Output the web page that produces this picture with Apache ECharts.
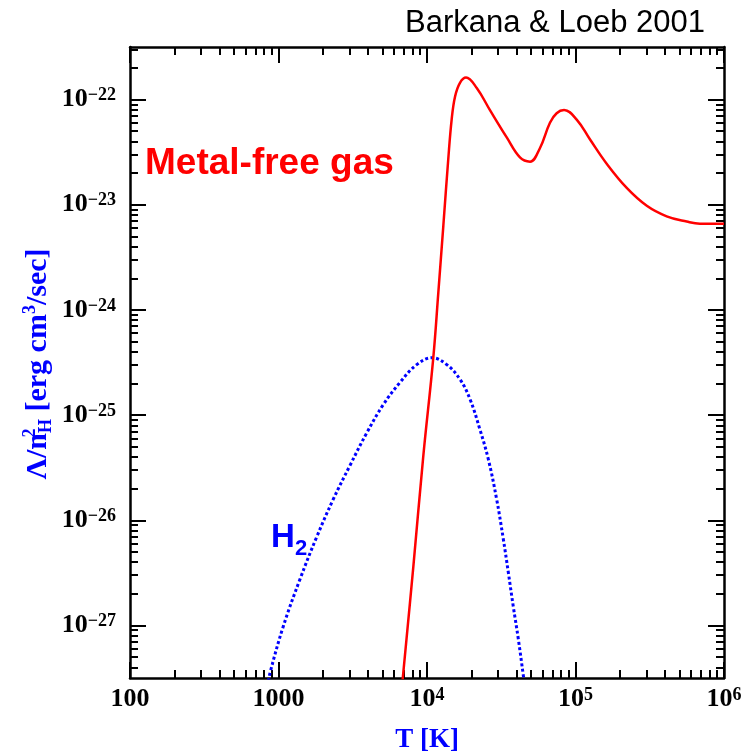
<!DOCTYPE html>
<html>
<head>
<meta charset="utf-8">
<script src="https://cdn.jsdelivr.net/npm/echarts@6/dist/echarts.min.js"></script>
<style>
  html, body { margin: 0; padding: 0; background: #ffffff; }
  #chart { width: 756px; height: 752px; }
</style>
</head>
<body>
<div id="chart"></div>
<script>
// Cooling function of primordial gas; both axes are plotted as log10 values.
const xMajor = [2, 3, 4, 5, 6];                  // log10 T [K]
const xMajorText = ['100', '1000', '10^4', '10^5', '10^6'];
const yMajor = [-27, -26, -25, -24, -23, -22];   // log10 of cooling rate
const xRange = [2, 6];
const yRange = [-27.5, -21.5];

// Metal-free (atomic H + He) cooling curve
const metalFreeLogT = [3.835, 3.908, 3.975, 4.042, 4.076, 4.110, 4.143, 4.166, 4.189, 4.222,
  4.263, 4.335, 4.424, 4.537, 4.626, 4.694, 4.761, 4.828, 4.873, 4.923,
  5.008, 5.098, 5.210, 5.345, 5.480, 5.614, 5.749, 5.838, 6.000];
const metalFreeLogL = [-27.53, -26.44, -25.39, -24.46, -23.84, -23.20, -22.57, -22.19, -21.97, -21.84,
  -21.79, -21.89, -22.10, -22.36, -22.55, -22.59, -22.46, -22.22, -22.13, -22.10,
  -22.19, -22.38, -22.61, -22.84, -23.01, -23.11, -23.16, -23.18, -23.18];

// Molecular hydrogen cooling curve
const h2LogT = [2.933, 2.943, 3.032, 3.145, 3.257, 3.369, 3.481, 3.594, 3.706, 3.818,
  3.931, 4.034, 4.133, 4.222, 4.290, 4.357, 4.413, 4.469, 4.514, 4.548,
  4.581, 4.615, 4.649, 4.654];
const h2LogL = [-27.53, -27.45, -27.01, -26.56, -26.16, -25.80, -25.48, -25.17, -24.90, -24.69,
  -24.52, -24.455, -24.52, -24.66, -24.85, -25.14, -25.42, -25.80, -26.18, -26.50,
  -26.82, -27.13, -27.48, -27.53];

// Intermediate log ticks (2..9 times each decade) inside a range
function minorLogTicks(lo, hi) {
  const out = [];
  for (let d = Math.floor(lo) - 1; d < hi; d++) {
    for (let k = 2; k <= 9; k++) {
      const v = d + Math.log10(k);
      if (v > lo && v < hi) out.push(v);
    }
  }
  return out;
}

const tickFont = 'Liberation Serif';
const labelRich = {
  b: { fontFamily: tickFont, fontWeight: 'bold', fontSize: 26, lineHeight: 26, color: '#000' },
  s: { fontFamily: tickFont, fontWeight: 'bold', fontSize: 18, lineHeight: 17, verticalAlign: 'top', color: '#000' }
};

function xLabel(v) {
  const i = xMajor.findIndex(e => Math.abs(e - v) < 1e-6);
  const t = i >= 0 ? xMajorText[i] : '';
  const parts = t.split('^');
  return parts.length > 1 ? '{b|' + parts[0] + '}{s|' + parts[1] + '}' : '{b|' + t + '}';
}
function yLabel(v) {
  return '{b|10}{s|\u2212' + Math.abs(Math.round(v)) + '}';
}

const lineCol = { color: '#000', width: 2.5 };
const tickCol = { color: '#000', width: 2 };

function makeAxis(range, position, ticks, len, opts) {
  return Object.assign({
    type: 'value', position: position, min: range[0], max: range[1],
    axisLine: { show: false, lineStyle: lineCol },
    splitLine: { show: false },
    axisTick: { show: true, inside: true, length: len, customValues: ticks, lineStyle: tickCol },
    axisLabel: { show: false }
  }, opts || {});
}

const xMinor = minorLogTicks(xRange[0], xRange[1]);
const yMinor = minorLogTicks(yRange[0], yRange[1]);

const xAxes = [
  makeAxis(xRange, 'bottom', xMajor, 16, {
    axisLine: { show: true, onZero: false, lineStyle: lineCol },
    axisLabel: { show: true, customValues: xMajor, formatter: xLabel, rich: labelRich, margin: 8 }
  }),
  makeAxis(xRange, 'bottom', xMinor, 8),
  makeAxis(xRange, 'top', xMajor, 16, { axisLine: { show: true, onZero: false, lineStyle: lineCol } }),
  makeAxis(xRange, 'top', xMinor, 8)
];
const yAxes = [
  makeAxis(yRange, 'left', yMajor, 16, {
    axisLine: { show: true, onZero: false, lineStyle: lineCol },
    axisLabel: { show: true, customValues: yMajor, formatter: yLabel, rich: labelRich, margin: 14 }
  }),
  makeAxis(yRange, 'left', yMinor, 8),
  makeAxis(yRange, 'right', yMajor, 16, { axisLine: { show: true, onZero: false, lineStyle: lineCol } }),
  makeAxis(yRange, 'right', yMinor, 8)
];

const chart = echarts.init(document.getElementById('chart'), null, { renderer: 'canvas' });
chart.setOption({
  animation: false,
  backgroundColor: '#ffffff',
  grid: { left: 130, right: 32, top: 47, bottom: 74, containLabel: false },
  xAxis: xAxes,
  yAxis: yAxes,
  series: [
    {
      name: 'H2',
      type: 'line',
      xAxisIndex: 0, yAxisIndex: 0,
      data: h2LogT.map((t, i) => [t, h2LogL[i]]),
      showSymbol: false,
      smooth: 0.4,
      clip: true,
      z: 2,
      lineStyle: { color: '#0000ff', width: 3, type: [3, 2.5], cap: 'butt' }
    },
    {
      name: 'Metal-free gas',
      type: 'line',
      xAxisIndex: 0, yAxisIndex: 0,
      data: metalFreeLogT.map((t, i) => [t, metalFreeLogL[i]]),
      showSymbol: false,
      smooth: 0.4,
      clip: true,
      z: 3,
      lineStyle: { color: '#ff0000', width: 2.5 }
    }
  ],
  graphic: [
    {
      type: 'text', x: 555, y: 23,
      style: { text: 'Barkana & Loeb 2001', fill: '#000', font: '31px "Liberation Sans"',
        align: 'center', verticalAlign: 'middle', textAlign: 'center', textVerticalAlign: 'middle' }
    },
    {
      type: 'text', x: 145, y: 164,
      style: { text: 'Metal-free gas', fill: '#ff0000', font: 'bold 37px "Liberation Sans"',
        align: 'left', verticalAlign: 'middle', textAlign: 'left', textVerticalAlign: 'middle' }
    },
    {
      type: 'text', x: 271, y: 538,
      style: { text: 'H', fill: '#0000ff', font: 'bold 33px "Liberation Sans"',
        align: 'left', verticalAlign: 'middle', textAlign: 'left', textVerticalAlign: 'middle' }
    },
    {
      type: 'text', x: 295, y: 549,
      style: { text: '2', fill: '#0000ff', font: 'bold 22px "Liberation Sans"',
        align: 'left', verticalAlign: 'middle', textAlign: 'left', textVerticalAlign: 'middle' }
    },
    {
      type: 'text', x: 427, y: 740,
      style: { text: 'T [K]', fill: '#0000ff', font: 'bold 27px "Liberation Serif"',
        align: 'center', verticalAlign: 'middle', textAlign: 'center', textVerticalAlign: 'middle' }
    },
    {
      type: 'text', x: 38, y: 364, rotation: Math.PI / 2,
      style: {
        text: '{t|\u039B/n}{p|2}{q|H}{t| [erg cm}{r|3}{t|/sec]}',
        align: 'center', verticalAlign: 'middle', textAlign: 'center', textVerticalAlign: 'middle',
        fill: '#0000ff',
        rich: {
          t: { fill: '#0000ff', fontFamily: tickFont, fontWeight: 'bold', fontSize: 30, lineHeight: 34 },
          p: { fill: '#0000ff', fontFamily: tickFont, fontWeight: 'bold', fontSize: 18, lineHeight: 18, verticalAlign: 'top', width: 0 },
          q: { fill: '#0000ff', fontFamily: tickFont, fontWeight: 'bold', fontSize: 18, lineHeight: 18, verticalAlign: 'bottom' },
          r: { fill: '#0000ff', fontFamily: tickFont, fontWeight: 'bold', fontSize: 18, lineHeight: 18, verticalAlign: 'top' }
        }
      }
    }
  ]
});
</script>
</body>
</html>
